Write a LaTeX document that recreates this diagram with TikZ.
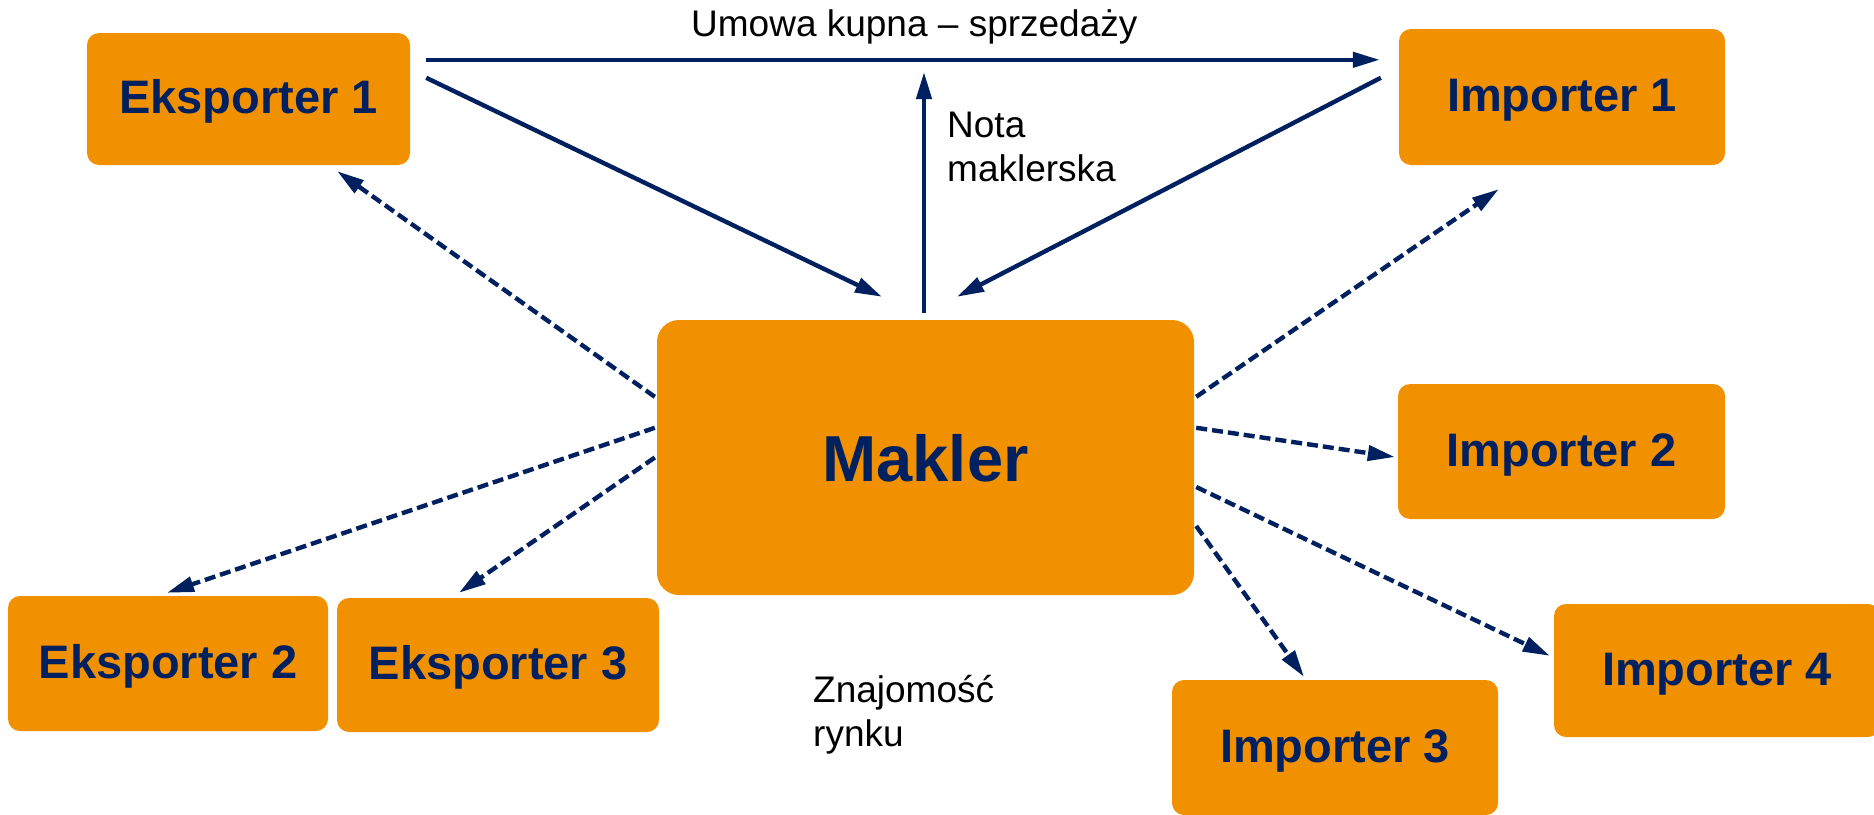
\documentclass[tikz,border=0pt]{standalone}
\usepackage{fontspec}
\setmainfont{Liberation Sans}
\usetikzlibrary{arrows.meta}

\definecolor{navy}{HTML}{002060}
\definecolor{boxorange}{HTML}{F29100}

\tikzset{
  party/.style={rectangle, rounded corners=12pt, fill=boxorange, draw=none,
    text=navy, font=\fontsize{47}{56}\selectfont\bfseries, inner sep=0pt,
    text height=34pt, text depth=5pt},
  broker/.style={party, rounded corners=22pt, font=\fontsize{65}{78}\selectfont\bfseries,
    text height=47pt, text depth=0pt},
  note/.style={text=black, font=\fontsize{37}{44.5}\selectfont, inner sep=0pt, align=left},
  flow/.style={draw=navy, line width=4.4pt, -{Triangle[length=27pt,width=15pt]}},
  info/.style={flow, dash pattern=on 11pt off 5pt}
}

\begin{document}
\begin{tikzpicture}[x=1pt, y=-1pt]
\useasboundingbox (0,0) rectangle (1874,814);

% trading parties
\node[party, minimum width=323pt, minimum height=132pt] (e1) at (248.5,99) {Eksporter 1};
\node[party, minimum width=320pt, minimum height=135pt] (e2) at (168,663.5) {Eksporter 2};
\node[party, minimum width=322pt, minimum height=134pt] (e3) at (498,665) {Eksporter 3};
\node[party, minimum width=326pt, minimum height=136pt] (i1) at (1562,97) {Importer 1};
\node[party, minimum width=327pt, minimum height=135pt] (i2) at (1561.5,451.5) {Importer 2};
\node[party, minimum width=326pt, minimum height=135pt] (i3) at (1335,747.5) {Importer 3};
\node[party, minimum width=326pt, minimum height=133pt] (i4) at (1717,670.5) {Importer 4};

% the broker in the middle
\node[broker, minimum width=537pt, minimum height=275pt] (makler) at (925.5,457.5) {Makler};

% labels
\node[note, anchor=base west] (umowa) at (691,36) {Umowa kupna – sprzedaży};
\node[note, anchor=north west] (nota) at (947,111.5) {Nota\\maklerska};
\node[note, anchor=north west] (rynek) at (813,675) {Znajomość\\rynku};

% contract and broker's note
\draw[flow] ([shift={(16,27)}]e1.north east) -- ([shift={(-19,31)}]i1.north west);
\draw[flow] ([shift={(16,45)}]e1.north east) -- ([shift={(-43.5,-23)}]makler.north);
\draw[flow] ([shift={(-18,49)}]i1.north west) -- ([shift={(31.5,-23)}]makler.north);
\coordinate (notatip) at (924,72);
\draw[flow] ([shift={(-1.5,-7)}]makler.north) -- (notatip);

% market knowledge spreading from the broker
\draw[info] ([shift={(-2,77)}]makler.north west) -- ([shift={(-73,6)}]e1.south east);
\draw[info] ([shift={(-2,108)}]makler.north west) -- ([shift={(-1,-3)}]e2.north);
\draw[info] ([shift={(-2,0)}]makler.west) -- ([shift={(-39,-5)}]e3.north);
\draw[info] ([shift={(2,77)}]makler.north east) -- ([shift={(100,24)}]i1.south west);
\draw[info] ([shift={(2,108)}]makler.north east) -- ([shift={(-3,5.5)}]i2.west);
\draw[info] ([shift={(2,29.5)}]makler.east) -- ([shift={(-4,52)}]i4.north west);
\draw[info] ([shift={(2,68.5)}]makler.east) -- ([shift={(-31,-3)}]i3.north);
\end{tikzpicture}
\end{document}
